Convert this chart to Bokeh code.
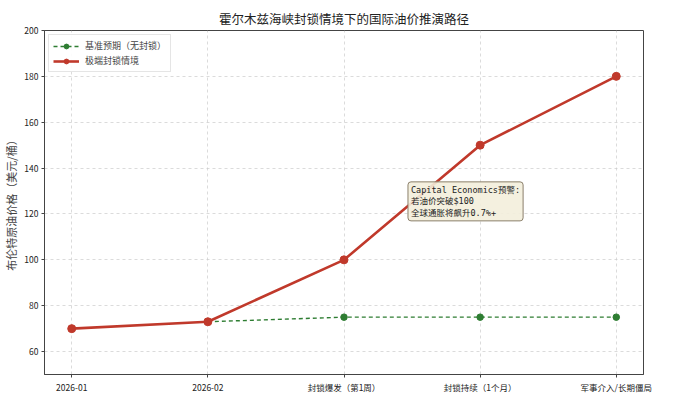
from bokeh.plotting import figure
from bokeh.models import (FixedTicker, Range1d, Legend, LegendItem, Label)
from bokeh.embed import file_html
from bokeh.resources import INLINE

categories = ["2026-01", "2026-02", "封锁爆发（第1周）", "封锁持续（1个月）", "军事介入/长期僵局"]
baseline = [70, 73, 75, 75, 75]
extreme = [70, 73, 100, 150, 180]
y_ticks = [60, 80, 100, 120, 140, 160, 180, 200]

CJK = "Noto Sans CJK SC"
x = list(range(len(categories)))

p = figure(width=697, height=397, output_backend="svg", toolbar_location=None,
           x_range=Range1d(-0.2, len(categories) - 0.8), y_range=Range1d(50, 200),
           min_border_left=40, min_border_right=54, min_border_top=30, min_border_bottom=23)

p.title.text = "霍尔木兹海峡封锁情境下的国际油价推演路径"
p.title.align = "center"
p.title.text_font = CJK
p.title.text_font_size = "12.5px"
p.title.text_font_style = "normal"
p.title.text_color = "#222222"
p.title.standoff = 5

# baseline (green dashed)
g_line = p.line(x[1:], baseline[1:], line_color="#2e7d32", line_width=1.4, line_dash="4 3")
g_pts = p.scatter(x[2:], baseline[2:], size=6.5, fill_color="#2e7d32", line_color="#2e7d32")
# extreme (red)
r_line = p.line(x, extreme, line_color="#c0392b", line_width=2.6)
r_pts = p.scatter(x, extreme, size=8, fill_color="#c0392b", line_color="#c0392b")

legend = Legend(items=[
    LegendItem(label="基准预期（无封锁）", renderers=[g_line, g_pts]),
    LegendItem(label="极端封锁情境", renderers=[r_line, r_pts]),
], location="top_left")
legend.label_text_font = CJK
legend.label_text_font_size = "9px"
legend.label_standoff = 6
legend.glyph_width = 26
legend.glyph_height = 12
legend.spacing = 2
legend.padding = 4
legend.margin = 4
legend.border_line_color = "#cccccc"
legend.background_fill_alpha = 0.9
p.add_layout(legend)

# axes
p.xaxis.ticker = FixedTicker(ticks=x)
p.xaxis.major_label_overrides = {i: c for i, c in zip(x, categories)}
p.yaxis.ticker = FixedTicker(ticks=y_ticks)
for ax in (p.xaxis, p.yaxis):
    ax.major_label_text_font = CJK
    ax.major_label_text_font_size = "8.5px"
    ax.major_label_text_color = "#222222"
    ax.axis_line_color = "#444444"
    ax.major_tick_line_color = "#444444"
    ax.major_tick_out = 3
    ax.major_tick_in = 0
    ax.minor_tick_line_color = None
    ax.major_label_standoff = 3
p.yaxis.axis_label = "布伦特原油价格（美元/桶）"
p.yaxis.axis_label_text_font = CJK
p.yaxis.axis_label_text_font_size = "11px"
p.yaxis.axis_label_text_font_style = "normal"
p.yaxis.axis_label_standoff = 2

p.xgrid.grid_line_color = "#cccccc"
p.ygrid.grid_line_color = "#cccccc"
p.xgrid.grid_line_dash = "3 3"
p.ygrid.grid_line_dash = "3 3"
p.xgrid.grid_line_alpha = 0.7
p.ygrid.grid_line_alpha = 0.7

p.outline_line_color = "#444444"
p.outline_line_width = 1

ann = Label(x=2.47, y=134, text="Capital Economics预警:\n若油价突破$100\n全球通胀将飙升0.7%+",
            text_font="DejaVu Sans Mono, Noto Sans CJK SC", text_font_size="8.5px",
            text_color="#222222", text_baseline="top", text_line_height=1.15,
            background_fill_color="#f3eedb", background_fill_alpha=0.9,
            border_line_color="#8a7f6a", border_line_width=1,
            padding=3, border_radius=3)
p.add_layout(ann)

open("out.html", "w").write(file_html(p, INLINE))
